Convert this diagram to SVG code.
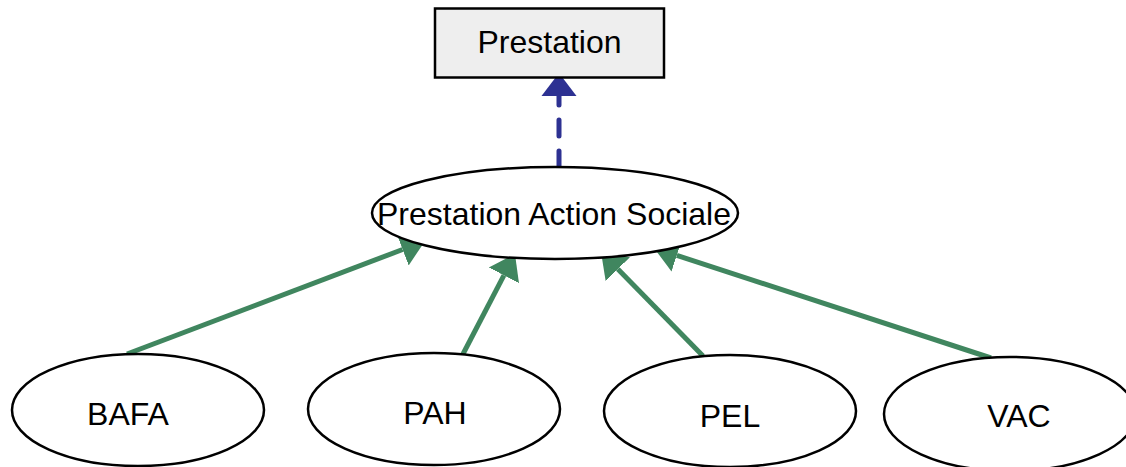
<svg xmlns="http://www.w3.org/2000/svg" width="1126" height="467" viewBox="0 0 1126 467">
<style>
.node{fill:#ffffff;stroke:#000000;stroke-width:2.5}
.box{fill:#eeeeee;stroke:#000000;stroke-width:2.5}
.lbl{font-family:"Liberation Sans",Arial,sans-serif;font-size:32px;fill:#000000;text-anchor:middle}
.gen{fill:none;stroke:#40865f;stroke-width:5}
.real{fill:none;stroke:#2d3192;stroke-width:5;stroke-dasharray:16,15;stroke-linecap:round}
</style>
<defs>
<marker id="ag" markerUnits="userSpaceOnUse" markerWidth="30" markerHeight="40" viewBox="0 -20 30 40" refX="0" refY="0" orient="auto">
<path d="M0,-17 L24,0 L0,17 Z" fill="#40865f"/>
</marker>
<marker id="ab" markerUnits="userSpaceOnUse" markerWidth="30" markerHeight="40" viewBox="0 -20 30 40" refX="0" refY="0" orient="auto">
<path d="M0,-17.5 L23,0 L0,17.5 Z" fill="#2d3192"/>
</marker>
</defs>
<g id="connectors">
<line class="real" x1="559" y1="167" x2="559" y2="96" marker-end="url(#ab)"/>
<line class="gen" x1="127" y1="354" x2="402.6" y2="249.5" marker-end="url(#ag)"/>
<line class="gen" x1="463" y1="354" x2="503.9" y2="275.3" marker-end="url(#ag)"/>
<line class="gen" x1="703" y1="356" x2="617.8" y2="269.1" marker-end="url(#ag)"/>
<line class="gen" x1="991" y1="358" x2="676.8" y2="255.4" marker-end="url(#ag)"/>
</g>
<g id="node-prestation">
<rect class="box" x="435" y="8.5" width="229" height="69"/>
<text class="lbl" x="549.5" y="53">Prestation</text>
</g>
<g id="node-prestation-action-sociale">
<ellipse class="node" cx="555" cy="213" rx="183" ry="46"/>
<text class="lbl" x="554" y="225">Prestation Action Sociale</text>
</g>
<g id="node-bafa">
<ellipse class="node" cx="138" cy="410" rx="126" ry="56"/>
<text class="lbl" x="128" y="425">BAFA</text>
</g>
<g id="node-pah">
<ellipse class="node" cx="434" cy="409" rx="126" ry="56"/>
<text class="lbl" x="435" y="424">PAH</text>
</g>
<g id="node-pel">
<ellipse class="node" cx="730" cy="411" rx="126" ry="56"/>
<text class="lbl" x="730" y="427">PEL</text>
</g>
<g id="node-vac">
<ellipse class="node" cx="1010" cy="414" rx="126" ry="57"/>
<text class="lbl" x="1019" y="427">VAC</text>
</g>
</svg>
